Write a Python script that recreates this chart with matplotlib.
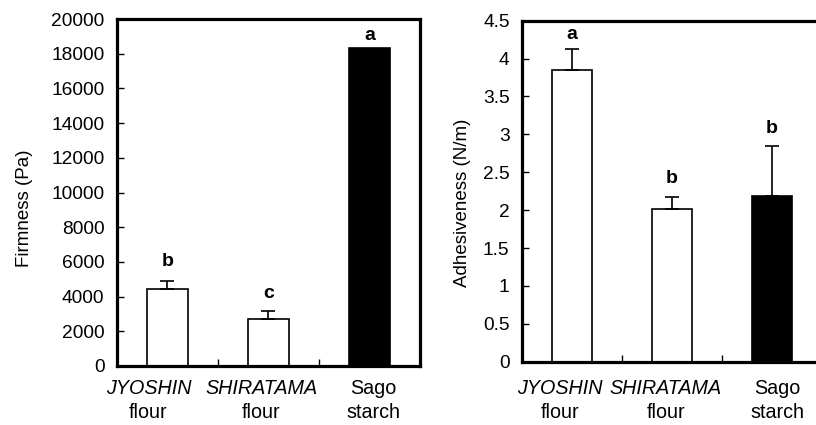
import matplotlib
matplotlib.use("Agg")
import matplotlib.pyplot as plt
import matplotlib.transforms as mtransforms

plt.rcParams['font.family'] = ['Liberation Sans', 'DejaVu Sans']

categories_italic = ["JYOSHIN", "SHIRATAMA", "Sago"]
categories_second = ["flour", "flour", "starch"]
italic_flags = [True, True, False]
bar_colors = ["white", "white", "black"]

firmness = [4420, 2690, 18350]
firmness_err = [480, 500, 0]
firmness_letters = ["b", "c", "a"]

adhesiveness = [3.85, 2.02, 2.19]
adhesiveness_err = [0.27, 0.15, 0.65]
adhesiveness_letters = ["a", "b", "b"]

firm_ticks = list(range(0, 20001, 2000))
adh_ticks = [0, 0.5, 1, 1.5, 2, 2.5, 3, 3.5, 4, 4.5]
adh_ticklabels = ["0", "0.5", "1", "1.5", "2", "2.5", "3", "3.5", "4", "4.5"]

W, H = 816, 425
fig = plt.figure(figsize=(W / 100, H / 100), dpi=100)

ax1 = fig.add_axes([117 / W, (H - 366) / H, 303 / W, 347 / H])
ax2 = fig.add_axes([522 / W, (H - 361.7) / H, 300 / W, 341 / H])


def draw(ax, vals, errs, letters, gaps, label_dx, ylim, yticks, yticklabels, ylabel):
    x = list(range(len(vals)))
    ax.bar(x, vals, width=0.4, color=bar_colors, edgecolor="black", linewidth=1.2, zorder=2)
    for xi, v, e in zip(x, vals, errs):
        if e > 0:
            ax.errorbar([xi], [v], yerr=[[0], [e]], fmt="none", ecolor="black",
                        elinewidth=1.2, capsize=5, capthick=1.2, zorder=3)
    for xi, v, e, l, g in zip(x, vals, errs, letters, gaps):
        ax.annotate(l, (xi, v + e), xytext=(0, g * 0.72), textcoords="offset points",
                    ha="center", va="bottom", fontsize=14, fontweight="bold")
    ax.set_xlim(-0.5, 2.5)
    ax.set_ylim(*ylim)
    ax.set_yticks(yticks)
    ax.set_yticklabels(yticklabels, fontsize=13.8)
    ax.set_xticks([0.5, 1.5])
    ax.set_xticklabels([])
    ax.tick_params(axis="both", direction="in", length=5, width=1, pad=9)
    for s in ax.spines.values():
        s.set_linewidth(2.3)
    ax.set_ylabel(ylabel, fontsize=13.5)
    trans = mtransforms.blended_transform_factory(ax.transData, fig.transFigure)
    for xi, t1, t2, it, dx in zip(x, categories_italic, categories_second, italic_flags, label_dx):
        off = mtransforms.offset_copy(trans, fig=fig, x=dx * 0.72, units="points")
        ax.text(xi, (H - 388) / H, t1, transform=off, ha="center", va="center",
                fontsize=14.2, style="italic" if it else "normal", clip_on=False)
        ax.text(xi, (H - 412) / H, t2, transform=off, ha="center", va="center",
                fontsize=14.2, clip_on=False)


draw(ax1, firmness, firmness_err, firmness_letters, [11, 9, 4], [-19, -7, 4], (0, 20000),
     firm_ticks, [str(t) for t in firm_ticks], "Firmness (Pa)")
draw(ax2, adhesiveness, adhesiveness_err, adhesiveness_letters, [6, 10, 9], [-12, -6, 5], (0, 4.5),
     adh_ticks, adh_ticklabels, "Adhesiveness (N/m)")

ax1.yaxis.set_label_coords(-0.277, 0.455)
ax2.yaxis.set_label_coords(-0.17, 0.465)

fig.savefig("out.png", dpi=100)
